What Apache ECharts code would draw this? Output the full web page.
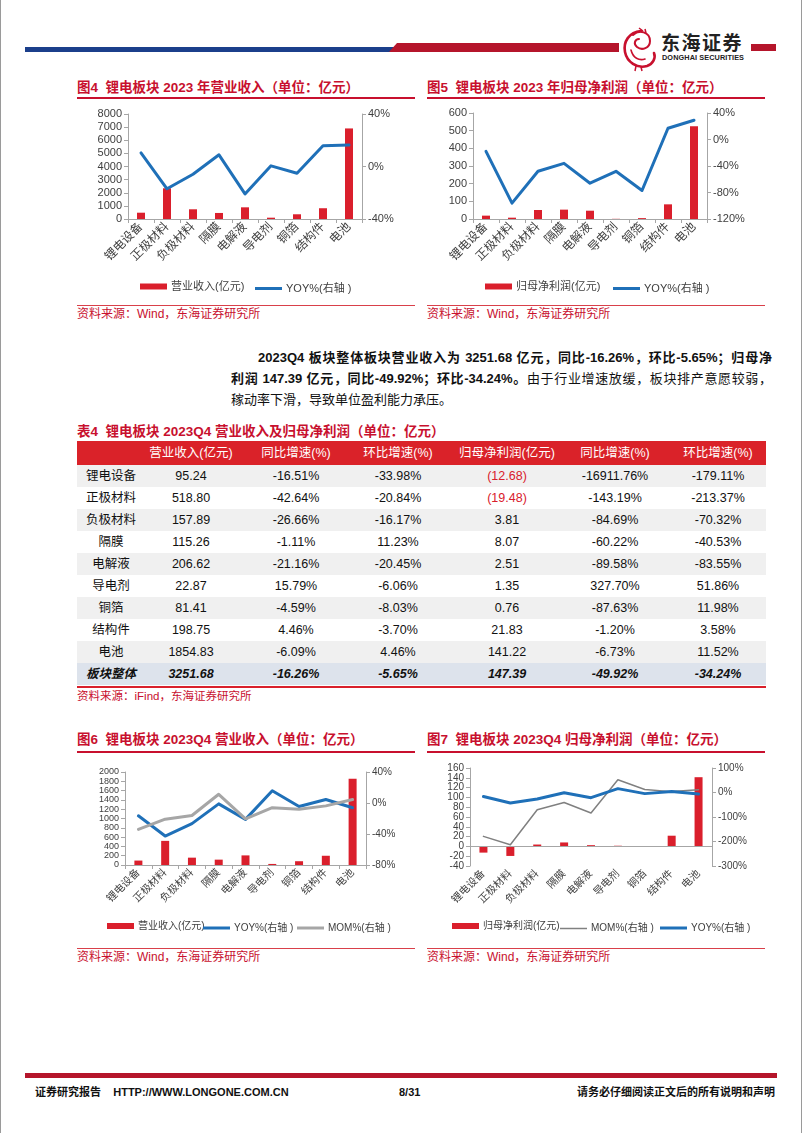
<!DOCTYPE html>
<html><head><meta charset="utf-8">
<script src="https://cdn.jsdelivr.net/npm/echarts@6/dist/echarts.min.js"></script>
<style>
html,body{margin:0;padding:0;background:#fff;}
body{width:802px;height:1133px;position:relative;overflow:hidden;font-family:"Liberation Sans","Noto Sans CJK SC",sans-serif;color:#111;}
.abs{position:absolute;}
.ttl{position:absolute;font-size:13.5px;font-weight:bold;color:#C8102E;white-space:nowrap;line-height:16px;}
.uline{position:absolute;height:1.5px;background:#C8102E;}
.src{position:absolute;font-size:12px;color:#C8102E;white-space:nowrap;line-height:14px;}
.sline{position:absolute;height:1px;background:#D9404A;}
.para{position:absolute;font-size:13px;line-height:16px;white-space:nowrap;}
.cell{position:absolute;transform:translateX(-50%);white-space:nowrap;font-size:12.5px;line-height:16px;}
.foot{position:absolute;font-size:11px;font-weight:bold;white-space:nowrap;line-height:13px;color:#111;}
</style></head>
<body>
<script>
// ---------------- DATA ----------------
const categories = ['锂电设备','正极材料','负极材料','隔膜','电解液','导电剂','铜箔','结构件','电池'];
// Figure 4: 2023 revenue (亿元) and YOY (%)
const rev2023 = [480, 2340, 740, 460, 890, 100, 360, 820, 6900];
const revYoy2023 = [10.4, -17, -5.9, 8.9, -20.9, 0.5, -5.1, 15.8, 16.3];
// Figure 5: 2023 net profit (亿元) and YOY (%)
const profit2023 = [19, 7.5, 51, 53, 47, 1, 5, 83, 525];
const profitYoy2023 = [-18, -96, -48, -36, -66, -48, -77, 17, 29];
// Table 4 / Figures 6-7: 2023Q4
const q4Rev = [95.24, 518.80, 157.89, 115.26, 206.62, 22.87, 81.41, 198.75, 1854.83];
const q4RevYoy = [-16.51, -42.64, -26.66, -1.11, -21.16, 15.79, -4.59, 4.46, -6.09];
const q4RevMom = [-33.98, -20.84, -16.17, 11.23, -20.45, -6.06, -8.03, -3.70, 4.46];
const q4Profit = [-12.68, -19.48, 3.81, 8.07, 2.51, 1.35, 0.76, 21.83, 141.22];
const q4ProfitYoy = [-16911.76, -143.19, -84.69, -60.22, -89.58, 327.70, -87.63, -1.20, -6.73];
const q4ProfitMom = [-179.11, -213.37, -70.32, -40.53, -83.55, 51.86, 11.98, 3.58, 11.52];
// Figure 7's YOY line as drawn in the picture (matches revenue YOY)
const fig7Yoy = [-16.51, -42.64, -26.66, -1.11, -21.16, 15.79, -4.59, 4.46, -6.09];
const totalLabel = '板块整体';
const totalRow = [3251.68, -16.26, -5.65, 147.39, -49.92, -34.24];
const tableHeaders = ['营业收入(亿元)','同比增速(%)','环比增速(%)','归母净利润(亿元)','同比增速(%)','环比增速(%)'];
</script>

<!-- page border -->
<div class="abs" style="left:0;top:0;width:1px;height:1133px;background:#9a9a9a"></div>
<div class="abs" style="right:0;top:0;width:1px;height:1133px;background:#9a9a9a"></div>

<!-- header -->
<div class="abs" style="left:25px;top:47px;width:372px;height:5px;background:#1B3F8B"></div>
<div class="abs" style="left:389px;top:43px;width:230px;height:9px;background:#B5152B;clip-path:polygon(8px 0,100% 0,100% 100%,0 100%)"></div>
<div class="abs" style="left:751px;top:44px;width:25px;height:7px;background:#B5152B"></div>
<svg class="abs" style="left:619px;top:26px" width="40" height="46" viewBox="0 0 40 46">
  <path d="M22 5 C10 6 4 16 6 26 C8 36 18 43 28 40 C34 38 37 32 35 27" fill="none" stroke="#C8102E" stroke-width="2.6" stroke-linecap="round"/>
  <path d="M14 9 C20 3 31 6 31 15 C31 22 23 25 18 21 C14 18 16 13 20 13" fill="none" stroke="#C8102E" stroke-width="2" stroke-linecap="round"/>
  <path d="M12 24 C14 32 20 35 26 33" fill="none" stroke="#C8102E" stroke-width="1.6" stroke-linecap="round"/>
  <path d="M20 2 L24 5 M26 3 L27 7 M17 40 L16 45 M22 41 L23 45" stroke="#C8102E" stroke-width="1.5"/>
</svg>
<div class="abs" style="left:661px;top:32px;font-size:19px;font-weight:bold;letter-spacing:1.5px;color:#222;font-family:'Noto Sans CJK SC';line-height:20px">东海证券</div>
<div class="abs" style="left:662px;top:54px;font-size:7.3px;font-weight:bold;color:#222;letter-spacing:0.1px;line-height:8px;font-family:'Liberation Sans'">DONGHAI SECURITIES</div>

<!-- figure 4 -->
<div class="ttl" style="left:77px;top:80px">图4&nbsp; 锂电板块 2023 年营业收入（单位：亿元）</div>
<div class="uline" style="left:77px;top:97px;width:338px"></div>
<div id="c4" class="abs" style="left:70px;top:100px;width:345px;height:204px"></div>
<div class="sline" style="left:77px;top:305px;width:338px"></div>
<div class="src" style="left:77px;top:307px">资料来源：Wind，东海证券研究所</div>

<!-- figure 5 -->
<div class="ttl" style="left:427px;top:80px">图5&nbsp; 锂电板块 2023 年归母净利润（单位：亿元）</div>
<div class="uline" style="left:427px;top:97px;width:338px"></div>
<div id="c5" class="abs" style="left:420px;top:100px;width:345px;height:204px"></div>
<div class="sline" style="left:427px;top:305px;width:338px"></div>
<div class="src" style="left:427px;top:307px">资料来源：Wind，东海证券研究所</div>

<!-- paragraph -->
<div class="para" style="left:258px;top:350px;width:514px;text-align:justify;text-align-last:justify;font-weight:bold">2023Q4 板块整体板块营业收入为 3251.68 亿元，同比-16.26%，环比-5.65%；归母净</div>
<div class="para" style="left:231px;top:371px;width:541px;text-align:justify;text-align-last:justify"><b>利润 147.39 亿元，同比-49.92%；环比-34.24%。</b>由于行业增速放缓，板块排产意愿较弱，</div>
<div class="para" style="left:231px;top:392px">稼动率下滑，导致单位盈利能力承压。</div>

<!-- table 4 -->
<div class="ttl" style="left:77px;top:424px">表4&nbsp; 锂电板块 2023Q4 营业收入及归母净利润（单位：亿元）</div>
<div id="tbl"></div>
<div class="abs" style="left:77px;top:686px;width:689px;height:1.5px;background:#D9202B"></div>
<div class="src" style="left:77px;top:689px;font-size:11.5px">资料来源：iFind，东海证券研究所</div>

<!-- figure 6 -->
<div class="ttl" style="left:77px;top:732px">图6&nbsp; 锂电板块 2023Q4 营业收入（单位：亿元）</div>
<div class="uline" style="left:77px;top:751px;width:338px"></div>
<div id="c6" class="abs" style="left:70px;top:755px;width:345px;height:190px"></div>
<div class="sline" style="left:77px;top:948px;width:338px"></div>
<div class="src" style="left:77px;top:950px">资料来源：Wind，东海证券研究所</div>

<!-- figure 7 -->
<div class="ttl" style="left:427px;top:732px">图7&nbsp; 锂电板块 2023Q4 归母净利润（单位：亿元）</div>
<div class="uline" style="left:427px;top:751px;width:338px"></div>
<div id="c7" class="abs" style="left:420px;top:755px;width:345px;height:190px"></div>
<div class="sline" style="left:427px;top:948px;width:338px"></div>
<div class="src" style="left:427px;top:950px">资料来源：Wind，东海证券研究所</div>

<!-- footer -->
<div class="abs" style="left:25px;top:1073px;width:752px;height:5px;background:#B5152B"></div>
<div class="foot" style="left:35px;top:1086px">证券研究报告&nbsp;&nbsp;&nbsp; HTTP://WWW.LONGONE.COM.CN</div>
<div class="foot" style="left:399px;top:1086px">8/31</div>
<div class="foot" style="left:577px;top:1086px">请务必仔细阅读正文后的所有说明和声明</div>

<script>
// ---------------- TABLE ----------------
(function(){
  const tbl = document.getElementById('tbl');
  const colX = [111, 191, 296, 398, 507, 615, 718];
  const left = 77, width = 689;
  const headTop = 441, headH = 24, rowH = 22;
  let html = `<div class="abs" style="left:${left}px;top:${headTop}px;width:${width}px;height:${headH}px;background:#DA2229"></div>`;
  tableHeaders.forEach((h,i)=>{
    html += `<div class="cell" style="left:${colX[i+1]}px;top:${headTop+4}px;color:#fff">${h}</div>`;
  });
  const fmtN = v => v.toFixed(2);
  const fmtP = v => v.toFixed(2) + '%';
  const fmtProfit = v => v < 0 ? `<span style="color:#D9202B">(${Math.abs(v).toFixed(2)})</span>` : v.toFixed(2);
  categories.forEach((c,r)=>{
    const top = headTop + headH + r*rowH;
    if (r % 2 === 0) html += `<div class="abs" style="left:${left}px;top:${top}px;width:${width}px;height:${rowH}px;background:#F0F0F0"></div>`;
    const vals = [c, fmtN(q4Rev[r]), fmtP(q4RevYoy[r]), fmtP(q4RevMom[r]), fmtProfit(q4Profit[r]), fmtP(q4ProfitYoy[r]), fmtP(q4ProfitMom[r])];
    vals.forEach((v,i)=>{
      html += `<div class="cell" style="left:${colX[i]}px;top:${top+3}px">${v}</div>`;
    });
  });
  const tTop = headTop + headH + categories.length*rowH;
  html += `<div class="abs" style="left:${left}px;top:${tTop}px;width:${width}px;height:${rowH}px;background:#DDE3EC"></div>`;
  const tv = [totalLabel, fmtN(totalRow[0]), fmtP(totalRow[1]), fmtP(totalRow[2]), fmtN(totalRow[3]), fmtP(totalRow[4]), fmtP(totalRow[5])];
  tv.forEach((v,i)=>{
    html += `<div class="cell" style="left:${colX[i]}px;top:${tTop+3}px;font-weight:bold;font-style:italic">${v}</div>`;
  });
  tbl.innerHTML = html;
})();

// ---------------- CHARTS ----------------
const FONT = '"Liberation Sans","Noto Sans CJK SC",sans-serif';
const RED = '#DA1F2C', BLUE = '#1F70B8', GRAY = '#A6A6A6', DGRAY = '#808080';
const AXIS = '#A6A6A6', LBL = '#404040';

function yAxis(min, max, interval, fs, pct, pos){
  return {type:'value', position:pos, min, max, interval,
    axisLine:{show:true, lineStyle:{color:AXIS, width:1}},
    axisTick:{show:true, length:4, lineStyle:{color:AXIS}},
    splitLine:{show:false},
    axisLabel:{fontSize:fs, lineHeight:Math.min(fs, 9), color:LBL, fontFamily:FONT, margin:6,
      showMinLabel:true, showMaxLabel:true, hideOverlap:false,
      formatter: v => pct ? (v + '%') : String(v)}};
}
function xAxis(fs, showLine){
  return {type:'category', data:categories,
    axisLine:{show:showLine, onZero:false, lineStyle:{color:AXIS}},
    axisTick:{show:showLine, length:4, lineStyle:{color:AXIS}},
    axisLabel:{interval:0, rotate:45, fontSize:fs, color:LBL, fontFamily:FONT, margin:6}};
}
function bar(name, data){
  return {name, type:'bar', data, barWidth:8, itemStyle:{color:RED}};
}
function line(name, data, color, width){
  return {name, type:'line', yAxisIndex:1, data, symbol:'none', showSymbol:false, smooth:false,
    lineStyle:{color, width, cap:'round', join:'round'}, itemStyle:{color}};
}
// one legend component per item so each icon gets its own size and position
function legendItem(name, left, top, h, fs){
  return {left, top, itemWidth:27, itemHeight:h, icon:'rect', padding:0, itemGap:0,
    textStyle:{fontSize:fs, color:LBL, fontFamily:FONT, padding:[0,0,0,-1]},
    data:[name]};
}

const c4 = echarts.init(document.getElementById('c4'));
c4.setOption({
  animation:false,
  grid:{left:58, top:14, width:234, height:105, containLabel:false, outerBoundsMode:'none'},
  xAxis: xAxis(12, true),
  yAxis: [yAxis(0, 8000, 1000, 11, false, 'left'), yAxis(-40, 40, 40, 11, true, 'right')],
  legend: [legendItem('营业收入(亿元)', 70, 181, 6, 11), legendItem('YOY%(右轴 )', 185, 183, 3, 11)],
  series: [bar('营业收入(亿元)', rev2023), line('YOY%(右轴 )', revYoy2023, BLUE, 3)]
});

const c5 = echarts.init(document.getElementById('c5'));
c5.setOption({
  animation:false,
  grid:{left:53, top:13, width:234, height:106, containLabel:false, outerBoundsMode:'none'},
  xAxis: xAxis(12, true),
  yAxis: [yAxis(0, 600, 100, 11, false, 'left'), yAxis(-120, 40, 40, 11, true, 'right')],
  legend: [legendItem('归母净利润(亿元)', 65, 181, 6, 11), legendItem('YOY%(右轴 )', 193, 183, 3, 11)],
  series: [bar('归母净利润(亿元)', profit2023), line('YOY%(右轴 )', profitYoy2023, BLUE, 3)]
});

const c6 = echarts.init(document.getElementById('c6'));
c6.setOption({
  animation:false,
  grid:{left:55, top:17, width:241, height:93, containLabel:false, outerBoundsMode:'none'},
  xAxis: xAxis(10.5, true),
  yAxis: [yAxis(0, 2000, 200, 9, false, 'left'), yAxis(-80, 40, 40, 10, true, 'right')],
  legend: [legendItem('营业收入(亿元)', 37, 166, 6, 10), legendItem('YOY%(右轴 )', 133, 168, 3, 10), legendItem('MOM%(右轴 )', 227, 168, 3, 10)],
  series: [bar('营业收入(亿元)', q4Rev), line('YOY%(右轴 )', q4RevYoy, BLUE, 3), line('MOM%(右轴 )', q4RevMom, GRAY, 3)]
});

const c7 = echarts.init(document.getElementById('c7'));
const b7 = bar('归母净利润(亿元)', q4Profit);
b7.markLine = {silent:true, symbol:'none', label:{show:false}, lineStyle:{color:AXIS, type:'solid', width:1}, data:[{yAxis:0}]};
c7.setOption({
  animation:false,
  grid:{left:50, top:13, width:242, height:98, containLabel:false, outerBoundsMode:'none'},
  xAxis: xAxis(10.5, false),
  yAxis: [yAxis(-40, 160, 20, 10, false, 'left'), yAxis(-300, 100, 100, 10, true, 'right')],
  legend: [legendItem('归母净利润(亿元)', 32, 166, 6, 10), legendItem('MOM%(右轴 )', 140, 168.5, 1.5, 10), legendItem('YOY%(右轴 )', 240, 168, 3, 10)],
  series: [b7, line('MOM%(右轴 )', q4ProfitMom, DGRAY, 1.5), line('YOY%(右轴 )', fig7Yoy, BLUE, 3)]
});
</script>
</body></html>
